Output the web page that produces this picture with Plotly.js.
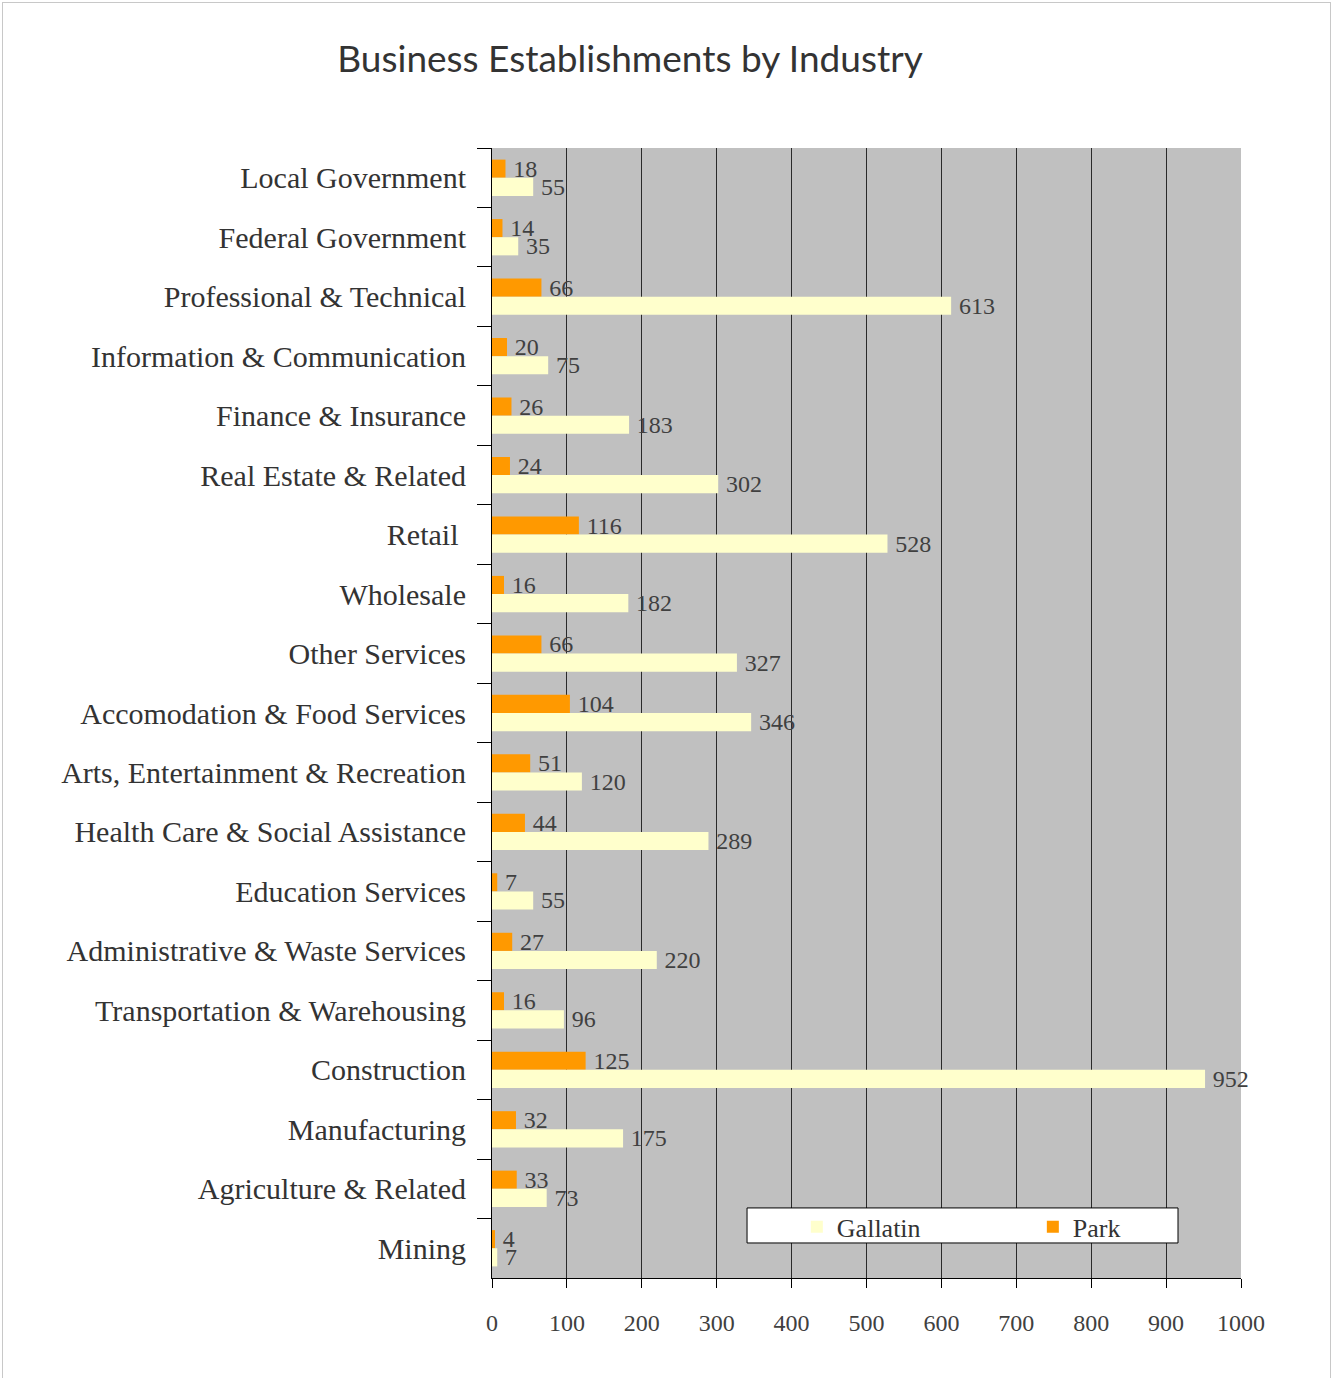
<!DOCTYPE html>
<html>
<head>
<meta charset="utf-8">
<script src="https://cdn.plot.ly/plotly-3.0.1.min.js"></script>
<style>
html, body { margin: 0; padding: 0; background: #ffffff; }
#chart { width: 1332px; height: 1378px; }
#frame { position: absolute; left: 2px; top: 2px; width: 1327px; height: 1390px; border: 1px solid #c8c8c8; pointer-events: none; }
</style>
</head>
<body>
<div id="chart"></div>
<div id="frame"></div>
<script>
const categories = [
  "Local Government",
  "Federal Government",
  "Professional & Technical",
  "Information & Communication",
  "Finance & Insurance",
  "Real Estate & Related",
  "Retail\u00a0",
  "Wholesale",
  "Other Services",
  "Accomodation & Food Services",
  "Arts, Entertainment & Recreation",
  "Health Care & Social Assistance",
  "Education Services",
  "Administrative & Waste Services",
  "Transportation & Warehousing",
  "Construction",
  "Manufacturing",
  "Agriculture & Related",
  "Mining"
];
const gallatin = [55, 35, 613, 75, 183, 302, 528, 182, 327, 346, 120, 289, 55, 220, 96, 952, 175, 73, 7];
const park = [18, 14, 66, 20, 26, 24, 116, 16, 66, 104, 51, 44, 7, 27, 16, 125, 32, 33, 4];
const xTicks = [0, 100, 200, 300, 400, 500, 600, 700, 800, 900, 1000];

const serif = "Liberation Serif";
const textColor = "#404040";
const pad = (v) => "\u2009" + v;

const traces = [
  {
    type: "bar", orientation: "h", name: "Park",
    y: categories, x: park,
    marker: { color: "#ff9900", line: { width: 0 } },
    text: park.map(pad), textposition: "outside", constraintext: "none",
    textfont: { family: serif, size: 24, color: textColor },
    cliponaxis: false, legendrank: 2, hoverinfo: "x+name"
  },
  {
    type: "bar", orientation: "h", name: "Gallatin",
    y: categories, x: gallatin,
    marker: { color: "#ffffcc", line: { width: 0 } },
    text: gallatin.map(pad), textposition: "outside", constraintext: "none",
    textfont: { family: serif, size: 24, color: textColor },
    cliponaxis: false, legendrank: 1, hoverinfo: "x+name"
  }
];

const layout = {
  width: 1332, height: 1378,
  margin: { l: 492, r: 91, t: 148, b: 100, pad: 0, autoexpand: false },
  font: { family: serif, color: "#333333" },
  paper_bgcolor: "#ffffff",
  plot_bgcolor: "#c0c0c0",
  barmode: "group",
  bargap: 0.39,
  bargroupgap: 0,
  title: {
    text: "Business Establishments by Industry",
    font: { family: "Lato", size: 37, color: "#333333" },
    x: 0.473, xanchor: "center", xref: "container",
    y: 0.957, yanchor: "middle", yref: "container"
  },
  xaxis: {
    range: [0, 1000],
    tickvals: xTicks,
    ticktext: xTicks.map(String),
    showgrid: true, gridcolor: "#2a2a2a", gridwidth: 1,
    zeroline: false,
    showline: true, linecolor: "#000000", linewidth: 1,
    ticks: "outside", ticklen: 9, tickcolor: "#000000", tickwidth: 1,
    ticklabelstandoff: 14,
    tickfont: { family: serif, size: 24, color: textColor },
    automargin: false,
    fixedrange: true
  },
  yaxis: {
    type: "category",
    autorange: "reversed",
    tickson: "boundaries",
    showgrid: false,
    showline: true, linecolor: "#000000", linewidth: 1,
    ticks: "outside", ticklen: 14, tickcolor: "#000000", tickwidth: 1,
    ticklabelstandoff: 19,
    tickfont: { family: serif, size: 30, color: "#333333" },
    automargin: false,
    fixedrange: true
  },
  showlegend: true,
  legend: {
    orientation: "h",
    x: 0.407, xanchor: "left",
    y: 0.066, yanchor: "top",
    bgcolor: "rgba(0,0,0,0)",
    borderwidth: 0,
    entrywidth: 191, entrywidthmode: "pixels",
    font: { family: serif, size: 26, color: "#333333" },
    traceorder: "normal"
  },
  shapes: [
    {
      type: "rect", xref: "paper", yref: "paper",
      x0: 0.3405, x1: 0.9159, y0: 0.0620, y1: 0.0310,
      fillcolor: "#ffffff", line: { color: "#000000", width: 1 }, layer: "above"
    }
  ]
};

Plotly.newPlot("chart", traces, layout, { displayModeBar: false, staticPlot: true });
</script>
</body>
</html>
